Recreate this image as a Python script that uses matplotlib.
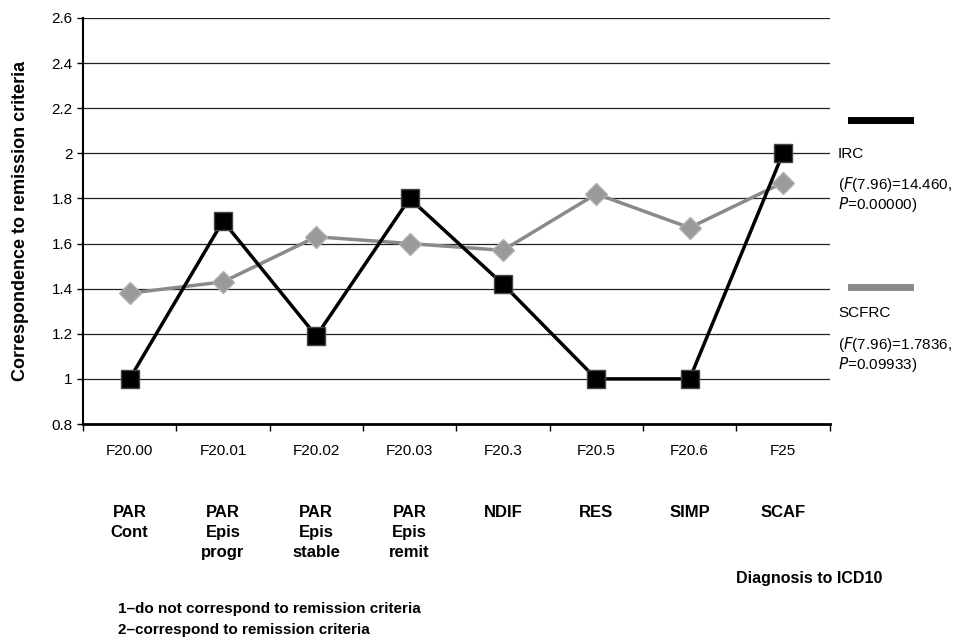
import numpy as np
import matplotlib.pyplot as plt

# data
codes = ["F20.00", "F20.01", "F20.02", "F20.03", "F20.3", "F20.5", "F20.6", "F25"]
names = ["PAR\nCont", "PAR\nEpis\nprogr", "PAR\nEpis\nstable", "PAR\nEpis\nremit",
         "NDIF", "RES", "SIMP", "SCAF"]
irc = [1.0, 1.70, 1.19, 1.80, 1.42, 1.0, 1.0, 2.0]
scfrc = [1.38, 1.43, 1.63, 1.60, 1.57, 1.82, 1.67, 1.87]
yticks = [0.8, 1.0, 1.2, 1.4, 1.6, 1.8, 2.0, 2.2, 2.4, 2.6]

plt.rcParams['font.family'] = ['Liberation Sans', 'DejaVu Sans']

fig = plt.figure(figsize=(9.56, 6.41), dpi=100)
ax = fig.add_axes([0.0868, 0.3385, 0.781, 0.6335])

x = np.arange(len(codes))
ax.plot(x, scfrc, color='#8a8a8a', lw=2.5, marker='D', ms=11,
        mfc='#9a9a9a', mec='#b0b0b0', zorder=3)
ax.plot(x, irc, color='black', lw=2.5, marker='s', ms=13,
        mfc='black', mec='#444444', zorder=4)

ax.set_xlim(-0.5, len(codes) - 0.5)
ax.set_ylim(0.8, 2.6)
ax.set_yticks(yticks)
ax.set_yticklabels([f"{v:g}" for v in yticks], fontsize=11)
for v in yticks[1:]:
    ax.axhline(v, color='#222222', lw=0.9, zorder=1)

ax.set_xticks(np.arange(len(codes) + 1) - 0.5)
ax.set_xticklabels([])
ax.tick_params(axis='x', length=5, width=1, direction='out')
ax.tick_params(axis='y', length=4, width=1, direction='out')
for i, c in enumerate(codes):
    ax.text(i, -0.05, c, transform=ax.get_xaxis_transform(), ha='center',
            va='top', fontsize=11)
for i, n in enumerate(names):
    ax.text(i, -0.2, n, transform=ax.get_xaxis_transform(), ha='center',
            va='top', fontsize=12, fontweight='bold', linespacing=1.4)

ax.spines['top'].set_visible(False)
ax.spines['right'].set_visible(False)
ax.spines['left'].set_linewidth(1.5)
ax.spines['bottom'].set_linewidth(2)

ax.set_ylabel("Correspondence to remission criteria", fontsize=13,
              fontweight='bold', labelpad=16)

# legend drawn by hand on the right
fig.add_artist(plt.Line2D([851 / 956, 910 / 956], [1 - 120 / 641] * 2,
                          color='black', lw=5))
fig.add_artist(plt.Line2D([851 / 956, 910 / 956], [1 - 287 / 641] * 2,
                          color='#8a8a8a', lw=5))
fig.text(838 / 956, 1 - 154 / 641, "IRC", fontsize=11, va='center')
fig.text(838 / 956, 1 - 185 / 641, "($\\it{F}$(7.96)=14.460,", fontsize=11, va='center')
fig.text(838 / 956, 1 - 205 / 641, "$\\it{P}$=0.00000)", fontsize=11, va='center')
fig.text(838 / 956, 1 - 313 / 641, "SCFRC", fontsize=11, va='center')
fig.text(838 / 956, 1 - 344 / 641, "($\\it{F}$(7.96)=1.7836,", fontsize=11, va='center')
fig.text(838 / 956, 1 - 364 / 641, "$\\it{P}$=0.09933)", fontsize=11, va='center')

fig.text(809 / 956, 1 - 578 / 641, "Diagnosis to ICD10", fontsize=11.5,
         fontweight='bold', ha='center', va='center')
fig.text(118 / 956, 1 - 609 / 641, "1\u2013do not correspond to remission criteria",
         fontsize=11, fontweight='bold', va='center')
fig.text(118 / 956, 1 - 630 / 641, "2\u2013correspond to remission criteria",
         fontsize=11, fontweight='bold', va='center')

fig.savefig("out.png", dpi=100)
